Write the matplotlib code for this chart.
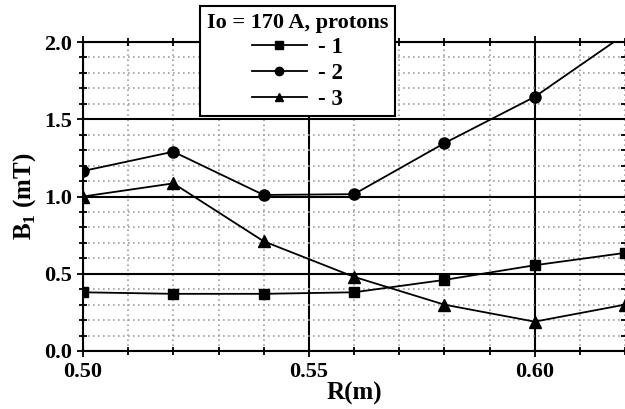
import matplotlib
matplotlib.use('Agg')
import matplotlib.pyplot as plt
from matplotlib.ticker import MultipleLocator

plt.rcParams['font.family'] = ['Liberation Serif', 'DejaVu Serif']
plt.rcParams['font.weight'] = 'bold'
plt.rcParams['mathtext.fontset'] = 'custom'
plt.rcParams['mathtext.rm'] = 'Liberation Serif:bold'
plt.rcParams['mathtext.bf'] = 'Liberation Serif:bold'

r = [0.50, 0.52, 0.54, 0.56, 0.58, 0.60, 0.62]
b1_1 = [0.38, 0.37, 0.37, 0.38, 0.46, 0.555, 0.635]
b1_2 = [1.165, 1.29, 1.01, 1.015, 1.345, 1.645, 2.05]
b1_3 = [1.0, 1.085, 0.71, 0.48, 0.30, 0.19, 0.30]
labels = ['- 1', '- 2', '- 3']
legend_title = 'Io = 170 A, protons'

fig = plt.figure(figsize=(6.25, 4.09), dpi=100)
ax = fig.add_axes([83 / 625, 1 - 351 / 409, 542 / 625, 309 / 409])

ax.plot(r, b1_1, '-s', color='black', lw=1.3, ms=7, label=labels[0])
ax.plot(r, b1_2, '-o', color='black', lw=1.3, ms=8, label=labels[1])
ax.plot(r, b1_3, '-^', color='black', lw=1.3, ms=8, label=labels[2])

ax.set_xlim(0.50, 0.62)
ax.set_ylim(0.0, 2.0)
ax.xaxis.set_major_locator(MultipleLocator(0.05))
ax.xaxis.set_minor_locator(MultipleLocator(0.01))
ax.yaxis.set_major_locator(MultipleLocator(0.5))
ax.yaxis.set_minor_locator(MultipleLocator(0.1))
ax.xaxis.set_major_formatter(plt.FuncFormatter(lambda v, p: f'{v:.2f}'))
ax.yaxis.set_major_formatter(plt.FuncFormatter(lambda v, p: f'{v:.1f}'))

ax.grid(which='major', color='black', lw=1.5, ls='-')
ax.grid(which='minor', color='#a0a0a0', lw=1.2, ls=(0, (1, 2)))
ax.set_axisbelow(True)

ax.tick_params(which='both', direction='inout', top=True, right=True,
               labelsize=16, width=1.3, color='black')
ax.tick_params(which='major', length=9)
ax.tick_params(which='minor', length=6)
for s in ax.spines.values():
    s.set_linewidth(1.5)
ax.spines['right'].set_visible(False)

ax.set_xlabel('R(m)', fontsize=18, fontweight='bold', labelpad=0)
ax.set_ylabel('B$_1$ (mT)', fontsize=18, fontweight='bold', labelpad=4)

leg = ax.legend(title=legend_title, loc='upper left', bbox_to_anchor=(0.216, 1.117),
                borderaxespad=0, fontsize=16.5,
                title_fontproperties={'size': 16, 'weight': 'bold'},
                frameon=True, fancybox=False, framealpha=1, edgecolor='black',
                handlelength=2.4, handletextpad=0.5, labelspacing=0.2,
                borderpad=0.3, markerscale=0.75)
leg.get_frame().set_linewidth(1.5)
leg.set_zorder(10)

fig.savefig('out.png', dpi=100)
